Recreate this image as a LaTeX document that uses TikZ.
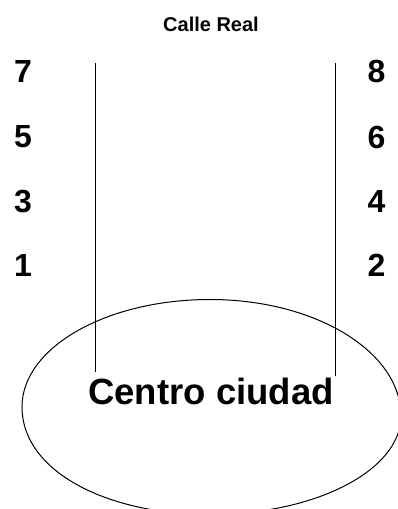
\documentclass[tikz,border=0pt]{standalone}
\usepackage{fontspec}
\setmainfont{Liberation Sans}
\begin{document}
\begin{tikzpicture}[x=1pt,y=1pt,
  num/.style={font=\bfseries\fontsize{32}{36}\selectfont, inner sep=0pt},
  title/.style={font=\bfseries\fontsize{20}{24}\selectfont, inner sep=0pt},
  big/.style={font=\bfseries\fontsize{36.5}{40}\selectfont, inner sep=0pt},
  street/.style={line width=1pt},
  oval/.style={line width=1pt}]
\useasboundingbox (0,0) rectangle (398,509);
\coordinate (eL) at (22,102);
\coordinate (eT) at (210,209.5);
\coordinate (eR) at (401,93);
\coordinate (eB) at (210,-5.5);
\draw[oval] (eL) .. controls (22,161.4) and (106.2,209.5) .. (eT)
  .. controls (315.5,209.5) and (401,157.3) .. (eR)
  .. controls (401,38.6) and (315.5,-5.5) .. (eB)
  .. controls (106.2,-5.5) and (22,38) .. (eL) -- cycle;
\node[title] (t) at (211,485) {Calle Real};
\node[num] (n7) at (23,437.5) {7};
\node[num] (n5) at (23,372) {5};
\node[num] (n3) at (23,307.5) {3};
\node[num] (n1) at (23,244) {1};
\node[num] (n8) at (376.5,437.5) {8};
\node[num] (n6) at (376.5,372) {6};
\node[num] (n4) at (376.5,307.5) {4};
\node[num] (n2) at (376.5,244) {2};
\node[big] (c) at (211,117.5) {Centro ciudad};
\coordinate (l1) at (95,446);
\coordinate (l2) at (95,137);
\coordinate (r1) at (335,446);
\coordinate (r2) at (335,133);
\draw[street] (l1) -- (l2);
\draw[street] (r1) -- (r2);
\end{tikzpicture}
\end{document}
